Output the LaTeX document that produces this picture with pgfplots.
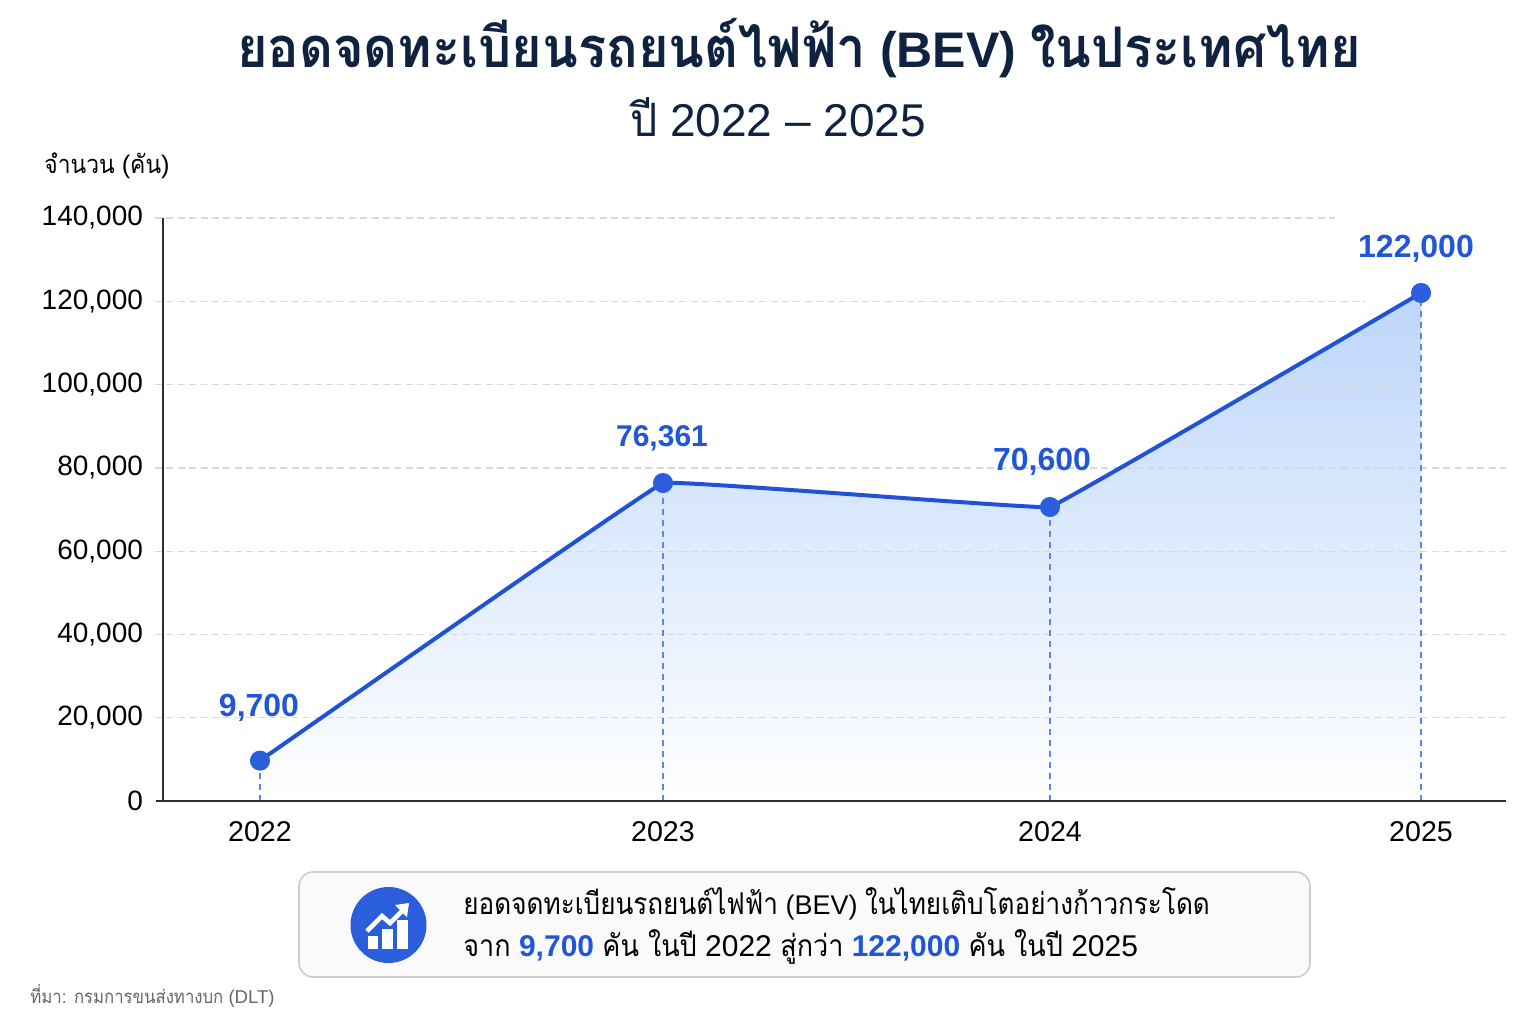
\documentclass[border=0pt]{standalone}
\usepackage{fontspec}
\usepackage{pgfplots}
\pgfplotsset{compat=1.18}
\setmainfont{Liberation Sans}
\newfontfamily\thf[Script=Thai,FakeStretch=0.9]{Loma}
\newfontfamily\thfn[Script=Thai,FakeStretch=0.87]{Loma}
\newfontfamily\thft[Script=Thai,FakeStretch=0.935]{Loma}
\definecolor{titlec}{HTML}{0F2240}
\definecolor{lineb}{HTML}{1F52D6}
\definecolor{markb}{HTML}{2A5EDC}
\definecolor{valb}{HTML}{2156D8}
\definecolor{gridc}{HTML}{D6D9DF}
\definecolor{axisc}{HTML}{2B2F36}
\definecolor{fillt}{HTML}{BDD6FB}
\definecolor{boxb}{HTML}{C9CCD1}
\definecolor{boxf}{HTML}{FAFAFA}
\newcommand{\fs}[1]{\fontsize{#1}{#1}\selectfont}
\pgfplotstableread{
x y
260 9700
663 76361
1050 70600
1421 122000
}\bev
\tikzset{gl/.style={gridc,dash pattern=on 3.5pt off 2.2pt,line width=0.65pt}}
\begin{document}
\begin{tikzpicture}[x=0.5pt,y=-0.5pt]
\path[use as bounding box] (0,0) rectangle (1536,1024);
\begin{axis}[
  at={(81.5pt,-400.5pt)},anchor=south west,
  scale only axis,width=671.5pt,height=291.5pt,
  xmin=163,xmax=1506,ymin=0,ymax=140000,
  axis x line=bottom,axis y line=left,
  axis line style={-,color=axisc,line width=0.7pt},
  axis on top,
  clip=false,
  xtick={260,663,1050,1421},
  xticklabels={2022,2023,2024,2025},
  ytick={0,20000,40000,60000,80000,100000,120000,140000},
  major tick length=0pt,
  xticklabel style={font=\fs{14.3}\color{black},yshift=-6.5pt},
  yticklabel style={font=\fs{14}\color{black},xshift=-6.5pt},
  /pgf/number format/assume math mode=true,
  /pgf/number format/fixed,
  /pgf/number format/1000 sep={,},
  scaled y ticks=false,
]
% area
\addplot[draw=none,top color=fillt,bottom color=white,smooth,tension=0.05] table[x=x,y=y] {\bev} |- (axis cs:260,0) -- cycle;
% grid
\addplot[gl] coordinates {(155,20000)(1506,20000)};
\addplot[gl] coordinates {(155,40000)(1506,40000)};
\addplot[gl] coordinates {(155,60000)(1506,60000)};
\addplot[gl] coordinates {(155,80000)(1506,80000)};
\addplot[gl] coordinates {(155,100000)(1400,100000)};
\addplot[gl] coordinates {(155,120000)(1365,120000)};
\addplot[gl] coordinates {(155,140000)(1335,140000)};
\addplot[axisc,line width=0.7pt] coordinates {(156,0)(163,0)};
% droplines
\addplot[ycomb,markb!75,dash pattern=on 3pt off 2.5pt,line width=0.55pt] table[x=x,y=y] {\bev};
% line
\addplot[lineb,line width=2pt,smooth,tension=0.05] table[x=x,y=y] {\bev};
\addplot[only marks,mark=*,mark size=4.8pt,mark options={fill=markb,draw=markb}] table[x=x,y=y] {\bev};
% labels
\node[font=\bfseries\fs{16},valb] at (axis cs:259,22300) {9,700};
\node[font=\bfseries\fs{15},valb] at (axis cs:662,87100) {76,361};
\node[font=\bfseries\fs{16},valb] at (axis cs:1042,81500) {70,600};
\node[font=\bfseries\fs{16},valb] at (axis cs:1416,132500) {122,000};
\end{axis}
% title
\node[titlec,font=\fs{25}\bfseries,anchor=center,inner sep=0pt] at (799,48) {{\fs{28}\thft ยอดจดทะเบียนรถยนต์ไฟฟ้า} (BEV) {\fs{28}\thft ในประเทศไทย}};
\node[titlec,font=\fs{23},anchor=center,inner sep=0pt] at (778,117) {{\thft ปี} 2022 – 2025};
\node[black,font=\fs{12.7},anchor=west,inner sep=0pt] at (44,166) {{\thf จำนวน} ({\thf คัน})};
% callout
\draw[boxb,fill=boxf,line width=0.8pt,rounded corners=7pt] (299,872) rectangle (1310,977);
\fill[markb] (388.5,925) circle (38);
\fill[white] (368,936) rectangle (378,949);
\fill[white] (382,929) rectangle (393,949);
\fill[white] (397,920) rectangle (408,949);
\draw[white,line width=2.3pt] (367,931) -- (382,916) -- (390,923) -- (402,911);
\fill[white] (409,903) -- (395,905) -- (407,917) -- cycle;
\node[black,font=\fs{13.5},anchor=base west,inner sep=0pt] at (463,914) {{\fs{15}\thfn ยอดจดทะเบียนรถยนต์ไฟฟ้า} (BEV) {\fs{15}\thfn ในไทยเติบโตอย่างก้าวกระโดด}};
\node[black,font=\fs{15},anchor=base west,inner sep=0pt] at (463,956) {{\thf จาก} \textcolor{valb}{\bfseries 9,700} {\thf คัน ในปี} 2022 {\thf สู่กว่า} \textcolor{valb}{\bfseries 122,000} {\thf คัน ในปี} 2025};
\node[black!60,font=\fs{9.3},anchor=west,inner sep=0pt] at (30,996) {{\thf ที่มา: กรมการขนส่งทางบก} (DLT)};
\end{tikzpicture}
\end{document}
